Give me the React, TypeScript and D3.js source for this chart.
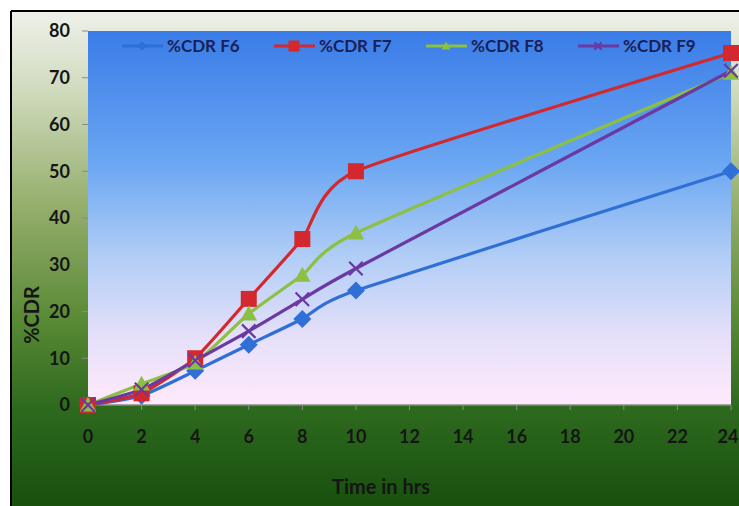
import * as d3 from "d3";
import React from "react";

// ── Data ─────────────────────────────────────────────────────────────────────
const hours = [0, 2, 4, 6, 8, 10, 24];
const xTicks = [0, 2, 4, 6, 8, 10, 12, 14, 16, 18, 20, 22, 24];
const yTicks = [0, 10, 20, 30, 40, 50, 60, 70, 80];

const cdrF6 = [0, 2, 7.3, 12.9, 18.4, 24.5, 50];
const cdrF7 = [0, 2.5, 10, 22.7, 35.5, 50, 75.3];
const cdrF8 = [0, 4.5, 9, 19.5, 27.8, 36.8, 71];
const cdrF9 = [0, 3.3, 9.5, 15.8, 22.6, 29.2, 71.5];

const seriesNames = ["%CDR F6", "%CDR F7", "%CDR F8", "%CDR F9"];
const seriesValues = [cdrF6, cdrF7, cdrF8, cdrF9];
const seriesColors = ["#2f6fd6", "#d2282e", "#8cc043", "#6a3aa2"];
const seriesMarkers = ["diamond", "square", "triangle", "cross"];

// ── Layout ───────────────────────────────────────────────────────────────────
const W = 739;
const H = 506;
const plot = { left: 88, top: 31, right: 731, bottom: 405 };
const FONT = "Lato, 'Open Sans', sans-serif";

function Marker({ kind, x, y, color, s }: { kind: string; x: number; y: number; color: string; s: number }) {
  if (kind === "diamond") {
    const r = s * 0.6;
    return <path d={`M${x},${y - r}L${x + r},${y}L${x},${y + r}L${x - r},${y}Z`} fill={color} />;
  }
  if (kind === "square") {
    const r = s * 0.5;
    return <rect x={x - r} y={y - r} width={2 * r} height={2 * r} fill={color} />;
  }
  if (kind === "triangle") {
    const r = s * 0.55;
    return <path d={`M${x},${y - r}L${x + r},${y + r * 0.8}L${x - r},${y + r * 0.8}Z`} fill={color} />;
  }
  const r = s * 0.45;
  return (
    <path
      d={`M${x - r},${y - r}L${x + r},${y + r}M${x + r},${y - r}L${x - r},${y + r}`}
      stroke={color}
      strokeWidth={2.2}
      fill="none"
    />
  );
}

export default function App() {
  const x = d3.scaleLinear().domain([0, 24]).range([plot.left, plot.right]);
  const y = d3.scaleLinear().domain([0, 80]).range([plot.bottom, plot.top]);

  // Excel-style smoothed line (cardinal spline, moderate tension)
  const line = d3
    .line<number>()
    .x((_, i) => x(hours[i]))
    .y((d) => y(d))
    .curve(d3.curveCardinal.tension(0.45));

  const legendX = [122, 274, 426, 578];

  return (
    <svg width={W} height={H} style={{ position: "absolute", left: 0, top: 0 }}>
      <defs>
        <linearGradient id="outerBg" x1="0" y1="0" x2="0" y2="1">
          <stop offset="0" stopColor="#eef1ea" />
          <stop offset="0.15" stopColor="#d2dcc0" />
          <stop offset="0.4" stopColor="#93ad6a" />
          <stop offset="0.62" stopColor="#5a8a36" />
          <stop offset="0.8" stopColor="#2e6a1e" />
          <stop offset="1" stopColor="#18500f" />
        </linearGradient>
        <linearGradient id="plotBg" x1="0" y1="0" x2="0" y2="1">
          <stop offset="0" stopColor="#3a7ce8" />
          <stop offset="0.35" stopColor="#6aa6f2" />
          <stop offset="0.6" stopColor="#b0cdf6" />
          <stop offset="0.82" stopColor="#e6e0fa" />
          <stop offset="1" stopColor="#ffe9fb" />
        </linearGradient>
        <clipPath id="clipArea">
          <rect x={0} y={0} width={W} height={H} />
        </clipPath>
      </defs>

      {/* white page + chart frame */}
      <rect x={0} y={0} width={W} height={H} fill="#ffffff" />
      <rect x={12} y={12} width={W - 12} height={H - 12} fill="url(#outerBg)" />
      <line x1={11} y1={11} x2={W} y2={11} stroke="#000" strokeWidth={2} />
      <line x1={11} y1={11} x2={11} y2={H} stroke="#000" strokeWidth={2} />

      {/* plot area */}
      <rect
        x={plot.left}
        y={plot.top}
        width={plot.right - plot.left}
        height={plot.bottom - plot.top}
        fill="url(#plotBg)"
      />
      <line x1={plot.left} y1={plot.bottom} x2={plot.right} y2={plot.bottom} stroke="#8a8a8a" strokeWidth={1.5} />

      {/* y axis */}
      {yTicks.map((t) => (
        <g key={t}>
          <line x1={plot.left - 6} x2={plot.left} y1={y(t)} y2={y(t)} stroke="#8a8a8a" />
          <text
            x={70}
            y={y(t)}
            dy="0.36em"
            textAnchor="end"
            fontFamily={FONT}
            fontSize={18}
            fontWeight={700}
            fill="#151515"
          >
            {t}
          </text>
        </g>
      ))}
      <text
        transform={`translate(39,${315}) rotate(-90)`}
        textAnchor="middle"
        fontFamily={FONT}
        fontSize={20}
        fontWeight={700}
        fill="#151515"
      >
        %CDR
      </text>

      {/* x axis */}
      {xTicks.map((t) => (
        <g key={t}>
          <line x1={x(t)} x2={x(t)} y1={plot.bottom} y2={plot.bottom + 5} stroke="#8a8a8a" />
          <text
            x={Math.min(x(t), W - 11)}
            y={437}
            dy="0.36em"
            textAnchor="middle"
            fontFamily={FONT}
            fontSize={18}
            fontWeight={700}
            fill="#151515"
          >
            {t}
          </text>
        </g>
      ))}
      <text x={381} y={494} textAnchor="middle" fontFamily={FONT} fontSize={20} fontWeight={700} fill="#151515">
        Time in hrs
      </text>

      {/* series */}
      <g clipPath="url(#clipArea)">
        {seriesValues.map((vals, si) => (
          <path
            key={si}
            d={line(vals) ?? ""}
            fill="none"
            stroke={seriesColors[si]}
            strokeWidth={3.2}
          />
        ))}
        {seriesValues.map((vals, si) =>
          vals.map((v, i) => (
            <Marker
              key={`${si}-${i}`}
              kind={seriesMarkers[si]}
              x={x(hours[i])}
              y={y(v)}
              color={seriesColors[si]}
              s={si === 1 ? 16 : 15}
            />
          ))
        )}
      </g>

      {/* legend */}
      {seriesNames.map((name, si) => (
        <g key={name}>
          <line
            x1={legendX[si]}
            x2={legendX[si] + 41}
            y1={46}
            y2={46}
            stroke={seriesColors[si]}
            strokeWidth={3}
          />
          <Marker
            kind={seriesMarkers[si]}
            x={legendX[si] + 20}
            y={46}
            color={seriesColors[si]}
            s={si === 1 ? 11 : 8}
          />
          <text
            x={legendX[si] + 45}
            y={46}
            dy="0.36em"
            fontFamily={FONT}
            fontSize={17}
            fontWeight={700}
            fill="#1a1f55"
          >
            {name}
          </text>
        </g>
      ))}
    </svg>
  );
}
